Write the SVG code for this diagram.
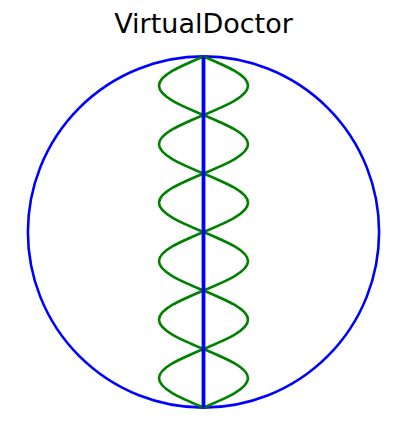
<svg xmlns="http://www.w3.org/2000/svg" width="407" height="435" viewBox="0 0 407 435">
<style>
.title{font-family:"DejaVu Sans",sans-serif;font-size:27px;fill:#000;text-anchor:middle}
.wave{fill:none;stroke:#008000;stroke-width:2.6}
</style>
<rect width="407" height="435" fill="#fff"/>
<text class="title" x="203.5" y="32.5">VirtualDoctor</text>
<g id="outer">
<circle cx="203.5" cy="232" r="175.6" fill="none" stroke="#0000ff" stroke-width="2.6"/>
</g>
<g id="waves">
<path class="wave" d="M203.5,56.5 c22.8,9.54 44.5,18.66 44.5,29.25 s-21.7,19.71 -44.5,29.25 s-44.5,18.66 -44.5,29.25 s21.7,19.71 44.5,29.25 s44.5,18.66 44.5,29.25 s-21.7,19.71 -44.5,29.25 s-44.5,18.66 -44.5,29.25 s21.7,19.71 44.5,29.25 s44.5,18.66 44.5,29.25 s-21.7,19.71 -44.5,29.25 s-44.5,18.66 -44.5,29.25 s21.7,19.71 44.5,29.25"/>
<path class="wave" d="M203.5,56.5 c-22.8,9.54 -44.5,18.66 -44.5,29.25 s21.7,19.71 44.5,29.25 s44.5,18.66 44.5,29.25 s-21.7,19.71 -44.5,29.25 s-44.5,18.66 -44.5,29.25 s21.7,19.71 44.5,29.25 s44.5,18.66 44.5,29.25 s-21.7,19.71 -44.5,29.25 s-44.5,18.66 -44.5,29.25 s21.7,19.71 44.5,29.25 s44.5,18.66 44.5,29.25 s-21.7,19.71 -44.5,29.25"/>
</g>
<g id="axis">
<line x1="203.5" y1="56.5" x2="203.5" y2="407.5" stroke="#0000ff" stroke-width="3.8"/>
</g>
</svg>
